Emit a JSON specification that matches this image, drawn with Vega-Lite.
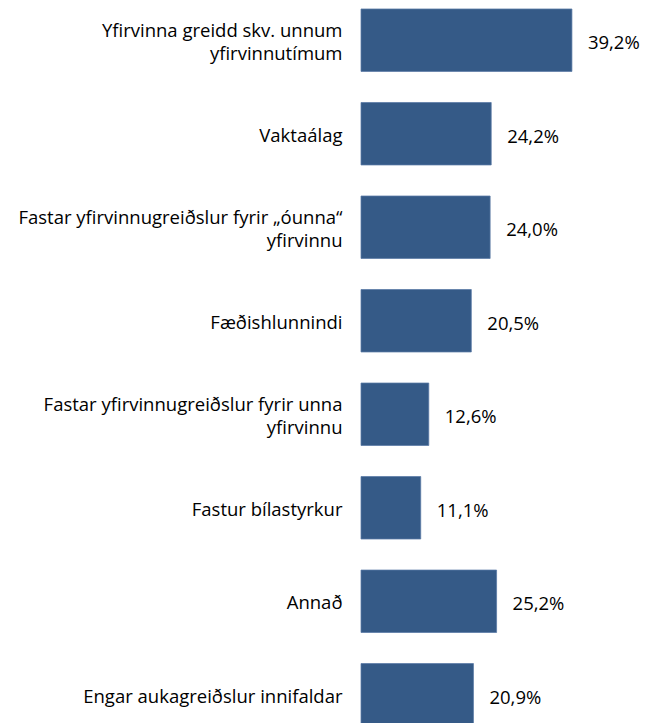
{
  "$schema": "https://vega.github.io/schema/vega-lite/v6.json",
  "width": 287,
  "height": 735,
  "autosize": {"type": "none"},
  "padding": {"left": 361, "top": 0, "right": 0, "bottom": 0},
  "background": "white",
  "config": {
    "view": {"stroke": null},
    "locale": {"number": {"decimal": ",", "thousands": ".", "grouping": [3], "currency": ["", " kr"]}}
  },
  "data": {
    "values": [
      {"label": "Yfirvinna greidd skv. unnum|yfirvinnutímum", "value": 0.392, "order": 1},
      {"label": "Vaktaálag", "value": 0.242, "order": 2},
      {"label": "Fastar yfirvinnugreiðslur fyrir „óunna“|yfirvinnu", "value": 0.240, "order": 3},
      {"label": "Fæðishlunnindi", "value": 0.205, "order": 4},
      {"label": "Fastar yfirvinnugreiðslur fyrir unna|yfirvinnu", "value": 0.126, "order": 5},
      {"label": "Fastur bílastyrkur", "value": 0.111, "order": 6},
      {"label": "Annað", "value": 0.252, "order": 7},
      {"label": "Engar aukagreiðslur innifaldar", "value": 0.209, "order": 8}
    ]
  },
  "encoding": {
    "y": {
      "field": "label",
      "type": "nominal",
      "sort": {"field": "order"},
      "scale": {"paddingInner": 0.332, "paddingOuter": 0.096},
      "axis": {
        "title": null,
        "domain": false,
        "ticks": false,
        "labelPadding": 19,
        "labelLimit": 400,
        "labelFont": "Open Sans",
        "labelFontSize": 18.5,
        "labelColor": "#000000",
        "labelLineHeight": 23,
        "labelOffset": {"condition": {"test": "indexof(datum.value, '|') >= 0", "value": -9.5}, "value": 2},
        "labelExpr": "split(datum.value, '|')"
      }
    },
    "x": {
      "field": "value",
      "type": "quantitative",
      "scale": {"domain": [0, 0.5334], "nice": false},
      "axis": null
    }
  },
  "layer": [
    {"mark": {"type": "bar", "color": "#355a87", "stroke": "#5a7aa6", "strokeWidth": 0.75}},
    {
      "mark": {"type": "text", "align": "left", "baseline": "middle", "dx": 16, "dy": 3, "font": "Open Sans", "fontSize": 18.5, "color": "#000000"},
      "encoding": {"text": {"field": "value", "type": "quantitative", "format": ".1%"}}
    }
  ]
}
